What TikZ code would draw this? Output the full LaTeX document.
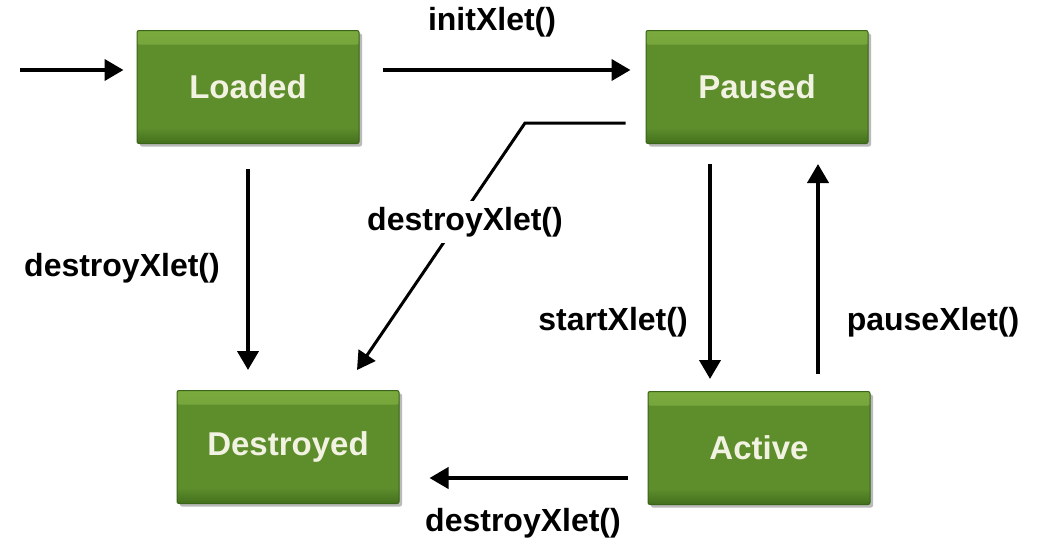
\documentclass[tikz,border=0pt]{standalone}
\usepackage{fontspec}
\setmainfont{Liberation Sans}
\usetikzlibrary{arrows.meta,shadows,calc}
\definecolor{boxfill}{HTML}{5E8E2C}
\definecolor{boxhi}{HTML}{7AAA3E}
\definecolor{boxlo}{HTML}{436F1D}
\definecolor{boxedge}{HTML}{3A6418}
\definecolor{boxtext}{HTML}{F2F2E2}
\tikzset{
  statebox/.style={rectangle, rounded corners=2pt, draw=boxedge, line width=1pt,
    fill=boxfill,
    path picture={
      \shade[top color=boxhi, bottom color=boxfill]
        (path picture bounding box.north west) rectangle
        ([yshift=-14pt]path picture bounding box.north east);
      \shade[top color=boxfill, bottom color=boxlo]
        ([yshift=16pt]path picture bounding box.south west) rectangle
        (path picture bounding box.south east);
    },
    minimum width=222pt, minimum height=113pt, inner sep=0pt,
    drop shadow={shadow xshift=3pt, shadow yshift=-3pt, opacity=0.45, fill=black!60},
    text=boxtext, font=\fontsize{33}{38}\selectfont\bfseries},
  trans/.style={-{Triangle[length=19pt,width=21pt]}, line width=4pt, black},
  transthin/.style={-{Triangle[length=18pt,width=20pt]}, line width=3pt, black},
  lbl/.style={font=\fontsize{32}{38}\selectfont\bfseries, text=black, inner sep=2pt, anchor=center}
}
\begin{document}
\begin{tikzpicture}[x=1pt,y=-1pt]
  \useasboundingbox[fill=white] (0,0) rectangle (1046,549);

  % states
  \node[statebox] (loaded)    at (248,87)  {Loaded};
  \node[statebox] (paused)    at (757,87)  {Paused};
  \node[statebox] (destroyed) at (288,447) {Destroyed};
  \node[statebox] (active)    at (759,448) {Active};

  % initial transition
  \coordinate (start) at (20,70);
  \draw[trans] (start) -- ([xshift=-13pt]loaded.west |- start);

  % Loaded -> Paused
  \draw[trans] ([xshift=23pt,yshift=17pt]loaded.east) -- ([xshift=-15pt,yshift=17pt]paused.west);
  \node[lbl] (linit) at (492,22) {initXlet()};

  % Loaded -> Destroyed
  \draw[trans] ([yshift=-25pt]loaded.south) -- ([yshift=20pt]destroyed.north -| loaded.south);
  \node[lbl] (lload) at (122,268) {destroyXlet()};

  % Paused -> Destroyed (bent line through its label)
  \coordinate (bend) at (525,123);
  \draw[transthin] ([xshift=-20pt,yshift=-36pt]paused.west) -- (bend) -- (357,370);
  \node[lbl, fill=white, inner sep=6pt] (ldiag) at (465,222) {destroyXlet()};

  % Paused -> Active
  \draw[trans] ([xshift=-47pt,yshift=-20pt]paused.south) -- ([xshift=-49pt,yshift=12pt]active.north);
  \node[lbl] (lstart) at (613,322) {startXlet()};

  % Active -> Paused
  \draw[trans] ([xshift=59pt,yshift=17pt]active.north) -- ([xshift=61pt,yshift=-20pt]paused.south);
  \node[lbl] (lpause) at (933,322) {pauseXlet()};

  % Active -> Destroyed
  \draw[trans] ([xshift=-20pt,yshift=-30pt]active.west) -- ([xshift=30pt,yshift=-30pt]destroyed.east |- active.west);
  \node[lbl] (lbottom) at (523,523) {destroyXlet()};
\end{tikzpicture}
\end{document}
